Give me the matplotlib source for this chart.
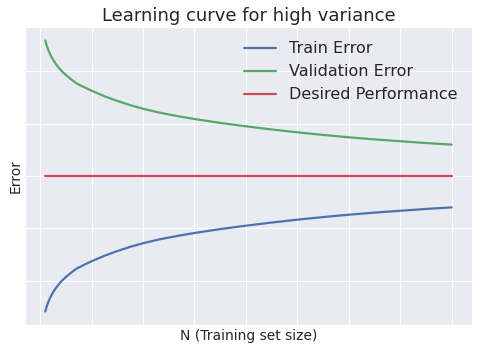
import numpy as np
import matplotlib
matplotlib.use("Agg")
import matplotlib.pyplot as plt
import seaborn as sns

sns.set_style("darkgrid")
plt.rcParams['font.family'] = ['DejaVu Sans']

# values (arbitrary error units, desired level at 0)
n_train = [1, 1.25, 1.5, 1.75, 2, 2.5, 3, 3.5, 4, 5, 6, 7, 8.5, 10, 12.5, 15, 17.5,
           20, 23.5, 27, 30, 35, 40, 45, 50, 55, 60, 65, 70, 75, 80]
train_err = [-2.59, -2.50, -2.43, -2.37, -2.315, -2.225, -2.15, -2.085, -2.025, -1.93,
             -1.85, -1.775, -1.70, -1.63, -1.525, -1.435, -1.355, -1.285, -1.205, -1.14,
             -1.09, -1.015, -0.95, -0.89, -0.835, -0.785, -0.74, -0.70, -0.665, -0.63, -0.60]
val_err = [2.59, 2.50, 2.43, 2.37, 2.315, 2.225, 2.15, 2.085, 2.025, 1.93,
           1.85, 1.775, 1.70, 1.63, 1.525, 1.435, 1.355, 1.285, 1.205, 1.14,
           1.09, 1.015, 0.95, 0.89, 0.835, 0.785, 0.74, 0.70, 0.665, 0.63, 0.60]
n_desired = [1, 80]
desired = [0, 0]

fig = plt.figure(figsize=(4.78, 3.51), dpi=100)
ax = fig.add_axes([25/478, 1-325/351, (472-25)/478, (325-27)/351])

ax.plot(n_train, train_err, color="#4C72B0", lw=1.6, label="Train Error")
ax.plot(n_train, val_err, color="#55A868", lw=1.6, label="Validation Error")
ax.plot(n_desired, desired, color="#C44E52", lw=1.6, label="Desired Performance")

ax.set_xticks(np.arange(0, 81, 10))
ax.set_yticks(np.arange(-2, 3, 1))
ax.set_xticklabels([])
ax.set_yticklabels([])
ax.tick_params(length=0, pad=0)

ax.set_title("Learning curve for high variance", fontsize=13, pad=4)
ax.set_xlabel("N (Training set size)", fontsize=10, labelpad=3)
ax.set_ylabel("Error", fontsize=10, labelpad=2)
ax.legend(loc="upper right", fontsize=11.5, frameon=False)

fig.savefig("out.png", dpi=100)
